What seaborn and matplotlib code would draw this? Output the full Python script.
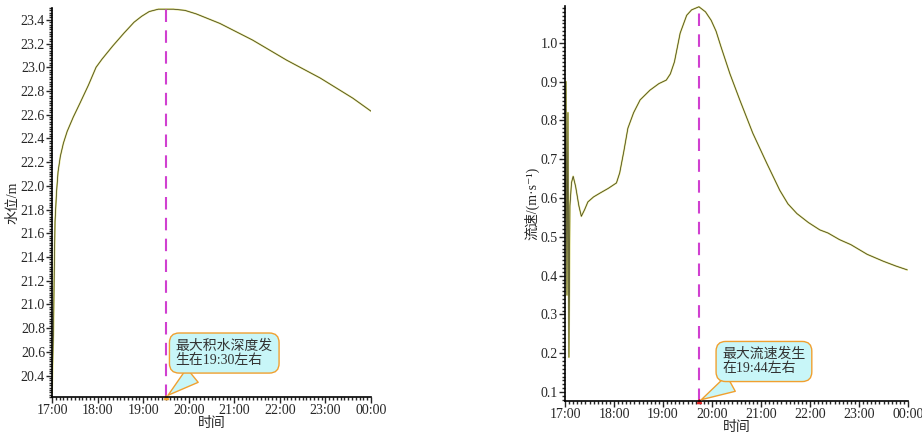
import numpy as np
import pandas as pd
import matplotlib
matplotlib.use("Agg")
import matplotlib.pyplot as plt
import matplotlib.dates as mdates
from matplotlib.ticker import MultipleLocator
import seaborn as sns

sns.set_style("ticks")
plt.rcParams['font.family'] = ['Liberation Serif', 'Noto Sans CJK SC', 'DejaVu Sans']
plt.rcParams['axes.unicode_minus'] = False

# ---- data (minutes after 17:00) ----
level_minutes = [0, 2, 3, 4, 6, 8, 11, 15, 20, 28, 37, 48, 58, 66, 80, 95, 108,
                 118, 128, 140, 160, 175, 190, 221, 264, 309, 353, 396, 420]
level_values = [20.25, 20.80, 21.30, 21.70, 21.95, 22.12, 22.25, 22.36, 22.46,
                22.58, 22.70, 22.85, 23.00, 23.07, 23.18, 23.29, 23.38, 23.43,
                23.47, 23.49, 23.49, 23.48, 23.45, 23.37, 23.23, 23.06, 22.91,
                22.74, 22.63]

speed_minutes = [0, 1.2, 2.4, 3.6, 4.8, 6, 8, 10, 13, 17, 20, 24, 28, 35, 43,
                 53, 63, 67, 72, 77, 84, 92, 104, 115, 124, 129, 134, 141, 149,
                 155, 164, 172, 179, 185, 191, 202, 214, 230, 247, 263, 273,
                 284, 298, 312, 322, 336, 350, 370, 390, 405, 419]
speed_values = [0.55, 0.90, 0.35, 0.82, 0.19, 0.58, 0.64, 0.656, 0.63, 0.58,
                0.553, 0.57, 0.59, 0.603, 0.613, 0.625, 0.639, 0.665, 0.72,
                0.78, 0.82, 0.853, 0.878, 0.895, 0.904, 0.92, 0.951, 1.025,
                1.071, 1.085, 1.093, 1.08, 1.058, 1.03, 0.99, 0.92, 0.853,
                0.767, 0.69, 0.62, 0.585, 0.56, 0.537, 0.518, 0.51, 0.493,
                0.48, 0.455, 0.437, 0.425, 0.415]

peak_level_time = "19:30"
peak_speed_time = "19:44"
note_level = "最大积水深度发\n生在19:30左右"
note_speed = "最大流速发生\n在19:44左右"

base = pd.Timestamp("2020-01-01 17:00")
df_level = pd.DataFrame({"时间": base + pd.to_timedelta(level_minutes, unit="m"),
                         "值": level_values})
df_speed = pd.DataFrame({"时间": base + pd.to_timedelta(speed_minutes, unit="m"),
                         "值": speed_values})
t_start = base
t_end = base + pd.Timedelta(hours=7)
t_level_peak = pd.Timestamp("2020-01-01 " + peak_level_time)
t_speed_peak = pd.Timestamp("2020-01-01 " + peak_speed_time)

fig = plt.figure(figsize=(9.22, 4.34), dpi=100)
ax1 = fig.add_axes([52/922, 1-397/434, 319/922, 389/434])
ax2 = fig.add_axes([565/922, 1-401/434, 343/922, 395/434])

def style(ax, df, ylim, major, minor, ylabel, tpeak, note, textpos, tipcolor):
    sns.lineplot(data=df, x="时间", y="值", ax=ax, color="#dede80", lw=1.3)
    sns.lineplot(data=df, x="时间", y="值", ax=ax, color="#3a3a1a", lw=0.5)
    ax.set_xlim(t_start, t_end)
    ax.set_ylim(*ylim)
    ax.axvline(tpeak, color="#d040d0", lw=1.5, ls=(0, (6, 4)))
    ax.xaxis.set_major_locator(mdates.HourLocator())
    ax.xaxis.set_major_formatter(mdates.DateFormatter("%H:%M"))
    ax.xaxis.set_minor_locator(mdates.MinuteLocator(byminute=range(0, 60, 5)))
    ax.yaxis.set_major_locator(MultipleLocator(major))
    ax.yaxis.set_minor_locator(MultipleLocator(minor))
    ax.yaxis.set_major_formatter(matplotlib.ticker.FormatStrFormatter("%.1f"))
    ax.tick_params(which="major", length=4, width=1, labelsize=10, pad=1, direction="out")
    ax.tick_params(which="minor", length=2, width=1, direction="out")
    for s in ["top", "right"]:
        ax.spines[s].set_visible(False)
    for s in ["left", "bottom"]:
        ax.spines[s].set_linewidth(1.2)
        ax.spines[s].set_color("black")
    ax.set_xlabel("时间", fontsize=10, labelpad=0)
    ax.set_ylabel(ylabel, fontsize=10, labelpad=1)
    ax.annotate(note, xy=(tpeak, ylim[0]), xycoords="data",
                xytext=textpos, textcoords="axes fraction",
                ha="center", va="center", multialignment="left",
                fontsize=10, color="#333333", linespacing=1.1,
                bbox=dict(boxstyle="round,pad=0.45,rounding_size=0.7",
                          fc="#c8f6f8", ec="#f0a030", lw=1),
                arrowprops=dict(arrowstyle="wedge,tail_width=1.3,shrink_factor=0.5",
                                fc="#c8f6f8", ec="#f0a030", lw=1,
                                connectionstyle="arc3", relpos=(0.28, 0.0)))
    ax.plot([tpeak], [ylim[0]], marker="^", color=tipcolor, ms=3, clip_on=False)

style(ax1, df_level, (20.22, 23.5), 0.2, 0.02, "水位/m", t_level_peak, note_level,
      (0.54, 0.113), "#f0a030")
style(ax2, df_speed, (0.077, 1.095), 0.1, 0.01, "流速/(m·s⁻¹)", t_speed_peak,
      note_speed, (0.58, 0.10), "#e02020")

fig.savefig("out.png", dpi=100)
